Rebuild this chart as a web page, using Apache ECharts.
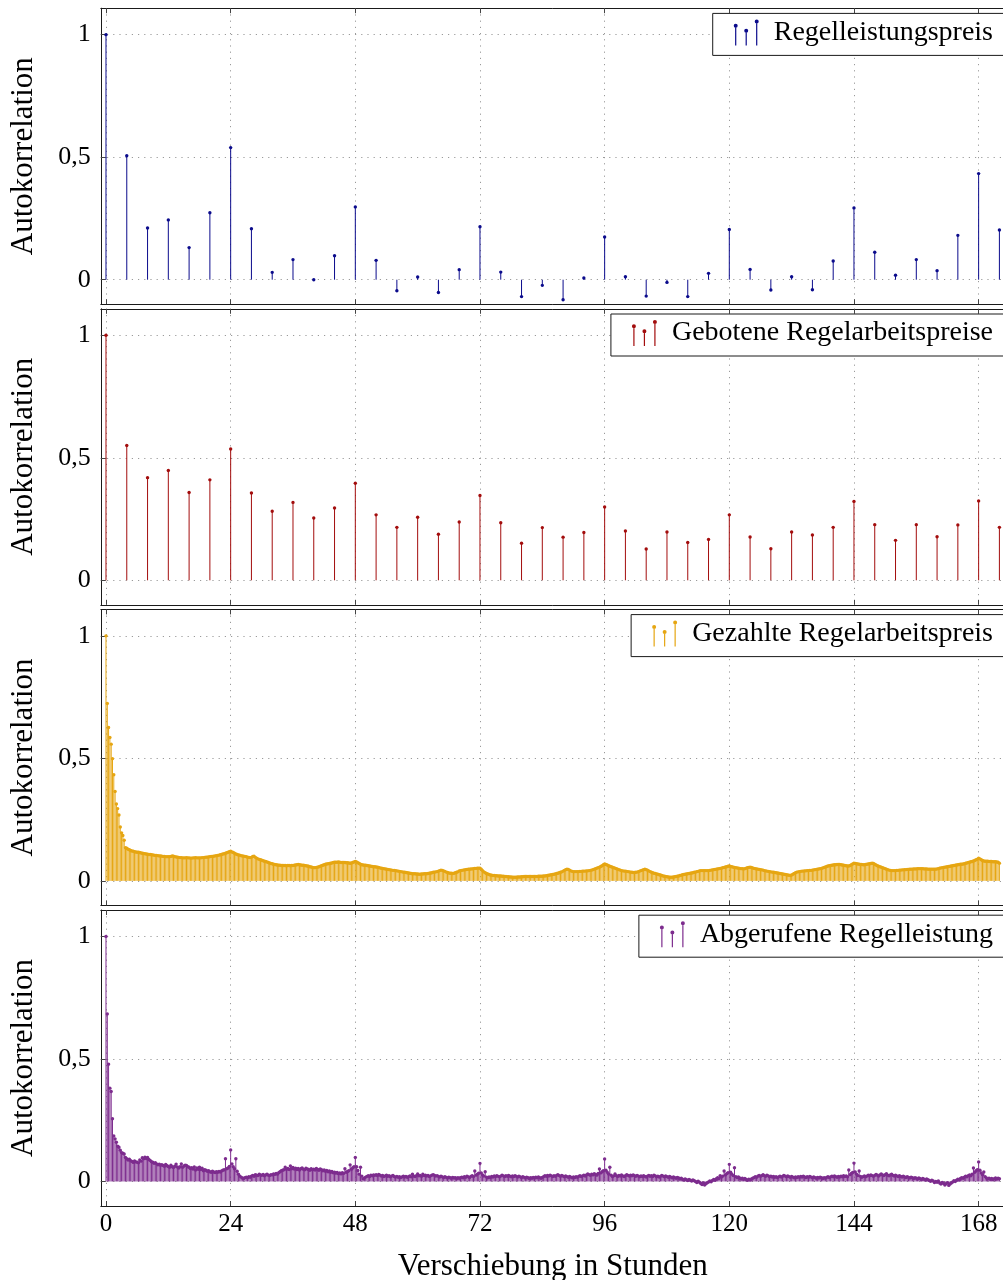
<!DOCTYPE html>
<html>
<head>
<meta charset="utf-8">
<script src="https://cdn.jsdelivr.net/npm/echarts@6/dist/echarts.min.js"></script>
<style>
  html, body { margin: 0; padding: 0; background: #fff; }
  #chart { width: 1003px; height: 1280px; }
</style>
</head>
<body>
<div id="chart"></div>
<script>
// Lags (hours) of the 4-hourly autocorrelation series
const lags4h = [0, 4, 8, 12, 16, 20, 24, 28, 32, 36, 40, 44, 48, 52, 56, 60, 64, 68, 72, 76, 80, 84,
  88, 92, 96, 100, 104, 108, 112, 116, 120, 124, 128, 132, 136, 140, 144, 148, 152, 156, 160, 164, 168, 172];

// Regelleistungspreis
const acfLeistungspreis = [1.000, 0.506, 0.211, 0.244, 0.131, 0.273, 0.539, 0.208, 0.030, 0.082, 0.000,
  0.098, 0.297, 0.079, -0.045, 0.011, -0.052, 0.041, 0.216, 0.031, -0.069, -0.023, -0.082, 0.007,
  0.174, 0.012, -0.067, -0.011, -0.069, 0.026, 0.205, 0.042, -0.042, 0.012, -0.041, 0.076, 0.293,
  0.112, 0.018, 0.082, 0.037, 0.181, 0.433, 0.203];

// Gebotene Regelarbeitspreise
const acfGeboteneAP = [1.000, 0.550, 0.419, 0.448, 0.358, 0.410, 0.536, 0.356, 0.282, 0.318, 0.254,
  0.295, 0.396, 0.267, 0.216, 0.257, 0.188, 0.238, 0.346, 0.235, 0.151, 0.215, 0.176, 0.195,
  0.299, 0.201, 0.128, 0.197, 0.154, 0.167, 0.267, 0.177, 0.129, 0.197, 0.185, 0.216, 0.322,
  0.227, 0.163, 0.227, 0.178, 0.226, 0.324, 0.216];

// Quarter-hourly series: one value per 15 minutes, lag 0 h ... 172 h (one row = 4 hours)
const quarterHourStep = 0.25;

// Gezahlte Regelarbeitspreis
const acfGezahlteAP = [
  1.000, 0.724, 0.626, 0.585, 0.558, 0.499, 0.433, 0.365, 0.314, 0.295, 0.269, 0.220, 0.196, 0.185, 0.166, 0.135,
  0.133, 0.129, 0.127, 0.124, 0.122, 0.121, 0.119, 0.118, 0.117, 0.117, 0.116, 0.114, 0.113, 0.112, 0.111, 0.110,
  0.109, 0.108, 0.108, 0.107, 0.106, 0.105, 0.104, 0.104, 0.103, 0.102, 0.102, 0.101, 0.100, 0.100, 0.099, 0.099,
  0.099, 0.099, 0.100, 0.102, 0.101, 0.099, 0.098, 0.097, 0.096, 0.095, 0.095, 0.094, 0.094, 0.094, 0.095, 0.094,
  0.094, 0.093, 0.093, 0.094, 0.094, 0.095, 0.094, 0.094, 0.094, 0.094, 0.095, 0.095, 0.096, 0.097, 0.097, 0.098,
  0.099, 0.100, 0.100, 0.101, 0.102, 0.103, 0.104, 0.105, 0.107, 0.108, 0.110, 0.111, 0.113, 0.115, 0.117, 0.119,
  0.121, 0.118, 0.116, 0.113, 0.110, 0.108, 0.106, 0.105, 0.103, 0.102, 0.101, 0.100, 0.099, 0.097, 0.096, 0.095,
  0.096, 0.100, 0.101, 0.096, 0.093, 0.090, 0.088, 0.086, 0.084, 0.082, 0.080, 0.079, 0.077, 0.075, 0.073, 0.071,
  0.070, 0.068, 0.067, 0.066, 0.065, 0.064, 0.064, 0.063, 0.063, 0.063, 0.063, 0.062, 0.063, 0.063, 0.062, 0.063,
  0.063, 0.064, 0.065, 0.066, 0.067, 0.066, 0.065, 0.064, 0.064, 0.063, 0.062, 0.061, 0.060, 0.058, 0.057, 0.055,
  0.054, 0.054, 0.055, 0.056, 0.058, 0.060, 0.062, 0.064, 0.066, 0.068, 0.069, 0.070, 0.071, 0.072, 0.073, 0.075,
  0.076, 0.076, 0.076, 0.077, 0.076, 0.075, 0.075, 0.075, 0.075, 0.074, 0.074, 0.073, 0.072, 0.073, 0.075, 0.077,
  0.079, 0.077, 0.074, 0.071, 0.068, 0.066, 0.065, 0.064, 0.064, 0.063, 0.062, 0.061, 0.060, 0.059, 0.058, 0.058,
  0.057, 0.056, 0.055, 0.053, 0.052, 0.051, 0.050, 0.049, 0.048, 0.047, 0.046, 0.045, 0.044, 0.043, 0.043, 0.042,
  0.041, 0.040, 0.039, 0.038, 0.037, 0.036, 0.035, 0.034, 0.033, 0.032, 0.031, 0.030, 0.029, 0.029, 0.029, 0.028,
  0.028, 0.027, 0.027, 0.028, 0.028, 0.029, 0.029, 0.029, 0.030, 0.031, 0.032, 0.033, 0.035, 0.036, 0.037, 0.038,
  0.040, 0.042, 0.044, 0.043, 0.041, 0.039, 0.036, 0.034, 0.032, 0.031, 0.031, 0.030, 0.031, 0.033, 0.035, 0.037,
  0.041, 0.042, 0.043, 0.044, 0.045, 0.046, 0.047, 0.048, 0.048, 0.049, 0.049, 0.050, 0.051, 0.051, 0.052, 0.052,
  0.052, 0.048, 0.042, 0.037, 0.033, 0.030, 0.028, 0.026, 0.024, 0.023, 0.022, 0.022, 0.021, 0.021, 0.020, 0.020,
  0.020, 0.019, 0.019, 0.018, 0.018, 0.017, 0.017, 0.016, 0.016, 0.015, 0.015, 0.015, 0.015, 0.016, 0.016, 0.016,
  0.017, 0.017, 0.018, 0.018, 0.018, 0.018, 0.018, 0.018, 0.018, 0.018, 0.018, 0.018, 0.018, 0.019, 0.019, 0.019,
  0.019, 0.020, 0.020, 0.021, 0.022, 0.023, 0.024, 0.025, 0.026, 0.027, 0.028, 0.030, 0.031, 0.033, 0.035, 0.037,
  0.040, 0.043, 0.046, 0.048, 0.047, 0.044, 0.041, 0.039, 0.038, 0.038, 0.038, 0.038, 0.038, 0.039, 0.039, 0.040,
  0.040, 0.040, 0.041, 0.041, 0.042, 0.043, 0.044, 0.046, 0.048, 0.050, 0.052, 0.054, 0.056, 0.059, 0.062, 0.066,
  0.069, 0.067, 0.065, 0.062, 0.060, 0.058, 0.056, 0.054, 0.052, 0.050, 0.048, 0.046, 0.044, 0.042, 0.041, 0.040,
  0.040, 0.039, 0.038, 0.037, 0.036, 0.035, 0.034, 0.034, 0.035, 0.036, 0.038, 0.040, 0.042, 0.044, 0.046, 0.048,
  0.046, 0.044, 0.041, 0.038, 0.035, 0.033, 0.031, 0.030, 0.028, 0.027, 0.025, 0.024, 0.022, 0.020, 0.019, 0.018,
  0.017, 0.016, 0.015, 0.015, 0.015, 0.016, 0.017, 0.018, 0.019, 0.020, 0.022, 0.023, 0.025, 0.026, 0.027, 0.028,
  0.029, 0.030, 0.031, 0.032, 0.033, 0.035, 0.036, 0.038, 0.039, 0.041, 0.042, 0.042, 0.042, 0.042, 0.042, 0.042,
  0.042, 0.043, 0.044, 0.045, 0.046, 0.047, 0.048, 0.049, 0.050, 0.051, 0.052, 0.054, 0.055, 0.057, 0.058, 0.060,
  0.061, 0.059, 0.058, 0.056, 0.055, 0.054, 0.053, 0.052, 0.051, 0.050, 0.050, 0.049, 0.050, 0.052, 0.054, 0.055,
  0.056, 0.055, 0.053, 0.051, 0.050, 0.049, 0.048, 0.047, 0.046, 0.045, 0.044, 0.042, 0.041, 0.040, 0.039, 0.038,
  0.037, 0.036, 0.035, 0.034, 0.033, 0.032, 0.031, 0.030, 0.029, 0.028, 0.027, 0.026, 0.025, 0.024, 0.023, 0.022,
  0.024, 0.027, 0.030, 0.033, 0.036, 0.037, 0.038, 0.039, 0.040, 0.040, 0.041, 0.041, 0.042, 0.042, 0.043, 0.043,
  0.044, 0.045, 0.046, 0.047, 0.048, 0.049, 0.050, 0.051, 0.053, 0.055, 0.057, 0.059, 0.061, 0.062, 0.063, 0.064,
  0.065, 0.066, 0.066, 0.067, 0.067, 0.067, 0.066, 0.065, 0.064, 0.063, 0.062, 0.061, 0.061, 0.063, 0.066, 0.069,
  0.072, 0.071, 0.070, 0.069, 0.068, 0.067, 0.067, 0.066, 0.066, 0.067, 0.068, 0.069, 0.070, 0.071, 0.072, 0.071,
  0.068, 0.065, 0.062, 0.060, 0.058, 0.056, 0.054, 0.052, 0.050, 0.048, 0.046, 0.044, 0.043, 0.042, 0.042, 0.042,
  0.042, 0.043, 0.043, 0.044, 0.044, 0.045, 0.045, 0.046, 0.046, 0.047, 0.047, 0.048, 0.048, 0.048, 0.049, 0.049,
  0.049, 0.050, 0.050, 0.050, 0.050, 0.050, 0.049, 0.049, 0.049, 0.048, 0.048, 0.048, 0.048, 0.048, 0.048, 0.048,
  0.049, 0.050, 0.052, 0.053, 0.054, 0.055, 0.056, 0.057, 0.058, 0.059, 0.060, 0.061, 0.062, 0.063, 0.064, 0.065,
  0.066, 0.067, 0.068, 0.068, 0.069, 0.070, 0.072, 0.073, 0.075, 0.076, 0.078, 0.079, 0.081, 0.083, 0.086, 0.089,
  0.093, 0.090, 0.086, 0.083, 0.081, 0.080, 0.080, 0.080, 0.079, 0.079, 0.079, 0.078, 0.078, 0.078, 0.077, 0.076,
  0.072
];

// Abgerufene Regelleistung
const acfAbgerufeneRL = [
  1.000, 0.684, 0.479, 0.381, 0.367, 0.256, 0.186, 0.174, 0.160, 0.144, 0.140, 0.128, 0.118, 0.115, 0.112, 0.098,
  0.093, 0.088, 0.091, 0.085, 0.082, 0.078, 0.084, 0.080, 0.079, 0.076, 0.088, 0.083, 0.097, 0.093, 0.099, 0.094,
  0.098, 0.090, 0.086, 0.081, 0.079, 0.074, 0.077, 0.072, 0.068, 0.071, 0.066, 0.069, 0.065, 0.062, 0.070, 0.064,
  0.061, 0.058, 0.066, 0.060, 0.057, 0.062, 0.071, 0.059, 0.055, 0.060, 0.072, 0.058, 0.063, 0.067, 0.065, 0.060,
  0.058, 0.053, 0.056, 0.051, 0.059, 0.047, 0.055, 0.050, 0.058, 0.049, 0.054, 0.044, 0.048, 0.046, 0.042, 0.044,
  0.040, 0.038, 0.042, 0.039, 0.037, 0.040, 0.038, 0.041, 0.039, 0.043, 0.046, 0.048, 0.093, 0.052, 0.055, 0.061,
  0.129, 0.072, 0.060, 0.052, 0.093, 0.042, 0.030, 0.022, 0.018, 0.014, 0.012, 0.016, 0.018, 0.015, 0.020, 0.017,
  0.022, 0.025, 0.021, 0.028, 0.026, 0.024, 0.030, 0.027, 0.025, 0.029, 0.023, 0.027, 0.030, 0.026, 0.024, 0.028,
  0.027, 0.031, 0.029, 0.033, 0.030, 0.036, 0.040, 0.044, 0.046, 0.048, 0.058, 0.050, 0.053, 0.049, 0.063, 0.052,
  0.057, 0.051, 0.054, 0.049, 0.053, 0.047, 0.052, 0.055, 0.050, 0.048, 0.054, 0.051, 0.049, 0.046, 0.052, 0.048,
  0.050, 0.047, 0.053, 0.049, 0.046, 0.051, 0.048, 0.044, 0.047, 0.042, 0.045, 0.040, 0.043, 0.038, 0.041, 0.036,
  0.038, 0.034, 0.037, 0.032, 0.035, 0.031, 0.036, 0.033, 0.052, 0.038, 0.041, 0.044, 0.068, 0.050, 0.056, 0.060,
  0.098, 0.060, 0.045, 0.030, 0.058, 0.022, 0.011, 0.014, 0.018, 0.021, 0.024, 0.020, 0.026, 0.023, 0.027, 0.025,
  0.028, 0.024, 0.029, 0.026, 0.022, 0.025, 0.020, 0.023, 0.026, 0.021, 0.024, 0.019, 0.022, 0.025, 0.020, 0.018,
  0.021, 0.017, 0.020, 0.016, 0.019, 0.022, 0.018, 0.021, 0.017, 0.020, 0.023, 0.019, 0.030, 0.022, 0.020, 0.024,
  0.031, 0.023, 0.025, 0.021, 0.030, 0.024, 0.026, 0.022, 0.025, 0.020, 0.023, 0.026, 0.028, 0.025, 0.022, 0.024,
  0.021, 0.018, 0.022, 0.019, 0.016, 0.020, 0.017, 0.014, 0.018, 0.015, 0.013, 0.017, 0.014, 0.016, 0.012, 0.015,
  0.013, 0.016, 0.018, 0.015, 0.020, 0.017, 0.022, 0.019, 0.016, 0.021, 0.024, 0.020, 0.043, 0.026, 0.030, 0.034,
  0.074, 0.035, 0.027, 0.022, 0.040, 0.018, 0.015, 0.019, 0.016, 0.021, 0.018, 0.023, 0.020, 0.024, 0.021, 0.019,
  0.022, 0.026, 0.023, 0.020, 0.024, 0.021, 0.025, 0.022, 0.019, 0.023, 0.020, 0.024, 0.021, 0.018, 0.022, 0.019,
  0.016, 0.020, 0.017, 0.014, 0.018, 0.015, 0.012, 0.016, 0.013, 0.017, 0.014, 0.018, 0.015, 0.019, 0.016, 0.013,
  0.017, 0.020, 0.024, 0.021, 0.025, 0.022, 0.026, 0.023, 0.020, 0.024, 0.021, 0.025, 0.028, 0.024, 0.021, 0.025,
  0.022, 0.019, 0.023, 0.020, 0.017, 0.021, 0.018, 0.015, 0.019, 0.016, 0.020, 0.017, 0.021, 0.024, 0.020, 0.023,
  0.026, 0.022, 0.027, 0.031, 0.028, 0.025, 0.030, 0.027, 0.032, 0.029, 0.026, 0.033, 0.051, 0.035, 0.040, 0.044,
  0.092, 0.046, 0.038, 0.031, 0.058, 0.026, 0.020, 0.023, 0.031, 0.024, 0.020, 0.025, 0.022, 0.027, 0.023, 0.020,
  0.024, 0.028, 0.025, 0.022, 0.026, 0.023, 0.027, 0.024, 0.021, 0.025, 0.022, 0.019, 0.023, 0.020, 0.024, 0.021,
  0.018, 0.022, 0.025, 0.021, 0.024, 0.020, 0.026, 0.023, 0.019, 0.022, 0.018, 0.021, 0.025, 0.022, 0.019, 0.023,
  0.020, 0.017, 0.021, 0.018, 0.015, 0.019, 0.016, 0.013, 0.017, 0.014, 0.010, 0.013, 0.009, 0.006, 0.010, 0.007,
  0.004, 0.008, 0.005, 0.002, 0.006, 0.003, 0.000, -0.004, 0.001, -0.003, -0.008, -0.012, -0.006, -0.014, -0.009, -0.005,
  -0.002, 0.002, -0.001, 0.004, 0.008, 0.005, 0.011, 0.015, 0.012, 0.024, 0.018, 0.022, 0.043, 0.027, 0.032, 0.036,
  0.070, 0.038, 0.030, 0.024, 0.056, 0.020, 0.016, 0.019, 0.014, 0.010, 0.013, 0.009, 0.012, 0.008, 0.005, 0.009,
  0.006, 0.010, 0.013, 0.016, 0.020, 0.017, 0.022, 0.025, 0.021, 0.024, 0.028, 0.024, 0.021, 0.026, 0.023, 0.019,
  0.022, 0.018, 0.021, 0.017, 0.020, 0.016, 0.019, 0.022, 0.018, 0.021, 0.025, 0.022, 0.019, 0.023, 0.020, 0.017,
  0.021, 0.018, 0.015, 0.019, 0.016, 0.020, 0.017, 0.021, 0.018, 0.022, 0.019, 0.016, 0.020, 0.017, 0.021, 0.018,
  0.015, 0.019, 0.016, 0.013, 0.017, 0.014, 0.018, 0.015, 0.012, 0.016, 0.013, 0.017, 0.020, 0.016, 0.019, 0.022,
  0.019, 0.023, 0.020, 0.017, 0.021, 0.018, 0.022, 0.019, 0.024, 0.020, 0.023, 0.019, 0.047, 0.028, 0.033, 0.037,
  0.075, 0.039, 0.030, 0.024, 0.043, 0.021, 0.017, 0.020, 0.023, 0.019, 0.022, 0.026, 0.023, 0.027, 0.024, 0.021,
  0.025, 0.029, 0.026, 0.022, 0.027, 0.031, 0.027, 0.024, 0.028, 0.032, 0.026, 0.023, 0.027, 0.030, 0.025, 0.022,
  0.026, 0.023, 0.020, 0.024, 0.021, 0.018, 0.022, 0.019, 0.016, 0.020, 0.017, 0.014, 0.018, 0.015, 0.012, 0.016,
  0.013, 0.010, 0.014, 0.011, 0.008, 0.012, 0.009, 0.006, 0.010, 0.007, 0.004, 0.001, 0.005, 0.002, -0.004, 0.000,
  -0.003, 0.002, -0.006, -0.010, -0.004, -0.008, -0.014, -0.009, -0.005, -0.016, -0.010, -0.006, -0.002, 0.003, 0.000, 0.005,
  0.009, 0.006, 0.012, 0.016, 0.013, 0.018, 0.022, 0.019, 0.024, 0.027, 0.023, 0.030, 0.055, 0.038, 0.044, 0.048,
  0.080, 0.046, 0.035, 0.028, 0.039, 0.020, 0.014, 0.010, 0.013, 0.009, 0.012, 0.008, 0.011, 0.014, 0.010, 0.013,
  0.011
];

// Axis ticks
const xTickValues = [0, 24, 48, 72, 96, 120, 144, 168];
const yTickValues = [0, 0.5, 1];
const seriesNames = ['Regelleistungspreis', 'Gebotene Regelarbeitspreise', 'Gezahlte Regelarbeitspreis', 'Abgerufene Regelleistung'];
const seriesColors = ['#0b0b8c', '#a30d0d', '#e6a612', '#7d2c8e'];

// ---- build the stem (ycomb) plots ----
const FONT = '"Liberation Serif", "Times New Roman", serif';
const panelTops = [8.2, 308.8, 609.4, 910.0];
const panelHeight = 296;
const X_MIN = -1, X_MAX = 173, Y_MIN = -0.1, Y_MAX = 1.108;
const frameLine = { show: true, onZero: false, lineStyle: { color: '#1a1a1a', width: 1 } };

function pairs(xs, ys) { return ys.map((v, i) => [xs[i], v]); }
function quarterHourPairs(ys) { return ys.map((v, i) => [i * quarterHourStep, v]); }

const panelData = [
  pairs(lags4h, acfLeistungspreis),
  pairs(lags4h, acfGeboteneAP),
  quarterHourPairs(acfGezahlteAP),
  quarterHourPairs(acfAbgerufeneRL)
];

function stemRenderer(color) {
  return function (params, api) {
    const x = api.value(0), y = api.value(1);
    const top = api.coord([x, y]);
    const base = api.coord([x, 0]);
    return {
      type: 'group',
      children: [
        { type: 'line', shape: { x1: base[0], y1: base[1], x2: top[0], y2: top[1] },
          style: { stroke: color, lineWidth: 1 } },
        { type: 'circle', shape: { cx: top[0], cy: top[1], r: 1.7 },
          style: { fill: color } }
      ]
    };
  };
}

// legend glyph: three stems with dots
const stemIcon = 'path://M1.4 6.3H2.6V26H1.4Z M11.9 11.3H13.1V26H11.9Z M22.4 2H23.6V26H22.4Z' +
  'M0 6.3A2 2 0 1 1 4 6.3A2 2 0 1 1 0 6.3Z M10.5 11.3A2 2 0 1 1 14.5 11.3A2 2 0 1 1 10.5 11.3Z' +
  'M21 2A2 2 0 1 1 25 2A2 2 0 1 1 21 2Z';

const grids = [], xAxes = [], yAxes = [], series = [], legends = [];
panelTops.forEach((top, i) => {
  grids.push({ left: 100.8, width: 903.8, top: top, height: panelHeight, outerBoundsMode: 'none',
    show: false });

  const isLast = i === panelTops.length - 1;
  xAxes.push({
    gridIndex: i, type: 'value', min: X_MIN, max: X_MAX, position: 'bottom',
    axisLine: frameLine,
    axisTick: { show: true, inside: true, length: 5, customValues: xTickValues, lineStyle: { color: '#444' } },
    axisLabel: { show: isLast, customValues: xTickValues, fontFamily: FONT, fontSize: 25, color: '#000', margin: 6 },
    splitLine: { show: true, lineStyle: { color: '#9a9a9a', width: 1, type: [1.2, 5] } },
    name: isLast ? 'Verschiebung in Stunden' : '',
    nameLocation: 'middle', nameGap: 45,
    nameTextStyle: { fontFamily: FONT, fontSize: 31, color: '#000' }
  });
  xAxes.push({
    gridIndex: i, type: 'value', min: X_MIN, max: X_MAX, position: 'top',
    axisLine: frameLine,
    axisTick: { show: true, inside: true, length: 5, customValues: xTickValues, lineStyle: { color: '#444' } },
    axisLabel: { show: false }, splitLine: { show: false }
  });
  yAxes.push({
    gridIndex: i, type: 'value', min: Y_MIN, max: Y_MAX,
    axisLine: frameLine,
    axisTick: { show: true, inside: true, length: 5, customValues: yTickValues, lineStyle: { color: '#444' } },
    axisLabel: { customValues: yTickValues, fontFamily: FONT, fontSize: 26, color: '#000', margin: 10,
      formatter: v => String(v).replace('.', ',') },
    splitLine: { show: true, lineStyle: { color: '#9a9a9a', width: 1, type: [1.2, 5] } },
    name: 'Autokorrelation', nameLocation: 'middle', nameRotate: 90, nameGap: 61,
    nameTextStyle: { fontFamily: FONT, fontSize: 31, color: '#000' }
  });

  series.push({
    name: seriesNames[i], type: 'custom', xAxisIndex: 2 * i, yAxisIndex: i,
    data: panelData[i], clip: true, silent: true, animation: false,
    itemStyle: { color: seriesColors[i] },
    renderItem: stemRenderer(seriesColors[i])
  });

  legends.push({
    data: [{ name: seriesNames[i], icon: stemIcon }],
    right: -11, top: top + 5.2, orient: 'horizontal',
    itemWidth: 25, itemHeight: 26,
    padding: [4, 21, 8, 21],
    backgroundColor: '#fff', borderColor: '#1a1a1a', borderWidth: 1, borderRadius: 0,
    selectedMode: false,
    textStyle: { fontFamily: FONT, fontSize: 28, lineHeight: 26, color: '#000', padding: [4, 0, 0, 10] }
  });
});

const chart = echarts.init(document.getElementById('chart'), null, { renderer: 'canvas' });
chart.setOption({
  animation: false,
  backgroundColor: '#fff',
  grid: grids, xAxis: xAxes, yAxis: yAxes, series: series, legend: legends
});
</script>
</body>
</html>
